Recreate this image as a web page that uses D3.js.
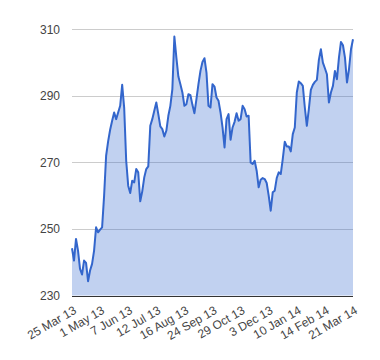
<!DOCTYPE html>
<html>
<head>
<meta charset="utf-8">
<script src="https://cdn.jsdelivr.net/npm/d3@7"></script>
<style>
  html, body { margin: 0; padding: 0; background: #fff; }
  svg { display: block; }
  text { font-family: Arial, "Liberation Sans", sans-serif; }
</style>
</head>
<body>
<svg id="chart" width="380" height="360"></svg>
<script>
// ---- data ----
const tickLabels = ["25 Mar 13", "1 May 13", "7 Jun 13", "12 Jul 13", "16 Aug 13", "24 Sep 13",
                    "29 Oct 13", "3 Dec 13", "10 Jan 14", "14 Feb 14", "21 Mar 14"];
const yTicks = [230, 250, 270, 290, 310];
const values = [
  244.2, 240.5, 247.0, 243.5, 238.0, 236.3, 240.5, 239.8, 234.3, 237.5,
  239.5, 243.5, 250.5, 249.0, 249.8, 250.5, 260.0, 272.0, 276.3, 279.8,
  282.5, 285.0, 283.0, 285.0, 287.0, 293.3, 286.4, 270.5, 263.0, 260.8,
  264.5, 264.0, 268.0, 267.0, 258.3, 261.3, 265.5, 268.0, 268.8, 281.0,
  283.0, 285.5, 288.0, 284.5, 280.8, 280.0, 277.8, 279.5, 284.0, 287.0,
  292.0, 307.8, 301.5, 295.8, 293.5, 291.0, 287.0, 287.5, 290.5, 290.2,
  287.3, 284.8, 289.0, 293.5, 297.5, 300.2, 301.3, 297.0, 287.0, 286.5,
  293.5, 292.8, 289.5, 288.5, 285.0, 280.5, 274.5, 283.0, 284.5, 276.8,
  280.5, 282.2, 284.8, 282.5, 283.0, 287.0, 286.0, 283.8, 284.0, 270.0,
  269.5, 270.5, 267.5, 262.5, 264.8, 265.3, 265.0, 263.8, 260.0, 255.5,
  261.0, 261.5, 265.3, 267.0, 266.5, 271.0, 276.2, 274.8, 274.8, 273.3,
  278.5, 280.5, 291.0, 294.3, 293.8, 293.0, 286.5, 281.0, 286.0, 291.8,
  293.3, 294.2, 294.8, 300.8, 304.0, 300.0, 298.3, 296.5, 288.0, 291.0,
  293.0, 297.5, 295.0, 301.5, 306.2, 305.2, 301.5, 294.0, 298.0, 304.0,
  307.0
];

// ---- layout ----
const W = 380, H = 360;
const plot = { left: 72, right: 353, top: 29.3, bottom: 295.5 };
const svg = d3.select("#chart");

const x = d3.scaleLinear().domain([0, values.length - 1]).range([plot.left, plot.right]);
const y = d3.scaleLinear().domain([230, 310]).range([plot.bottom, plot.top]);

// gridlines
svg.append("g").selectAll("line").data(yTicks.filter(d => d !== 230)).join("line")
  .attr("x1", plot.left).attr("x2", plot.right)
  .attr("y1", d => Math.round(y(d)) + 0.5).attr("y2", d => Math.round(y(d)) + 0.5)
  .attr("stroke", "#cccccc").attr("stroke-width", 1);

// area
const area = d3.area().x((d, i) => x(i)).y0(y(230)).y1(d => y(d));
svg.append("path").datum(values).attr("d", area)
  .attr("fill", "#3366cc").attr("fill-opacity", 0.3);

// line
const line = d3.line().x((d, i) => x(i)).y(d => y(d));
svg.append("path").datum(values).attr("d", line)
  .attr("fill", "none").attr("stroke", "#3366cc").attr("stroke-width", 2)
  .attr("stroke-linejoin", "round");

// baseline
svg.append("line")
  .attr("x1", plot.left).attr("x2", plot.right)
  .attr("y1", Math.round(y(230)) + 0.5).attr("y2", Math.round(y(230)) + 0.5)
  .attr("stroke", "#333333").attr("stroke-width", 1);

// y axis labels
const yAxis = d3.axisLeft(y).tickValues(yTicks).tickSize(0).tickPadding(12).tickFormat(d3.format("d"));
const gy = svg.append("g").attr("transform", `translate(${plot.left},0)`).call(yAxis);
gy.select(".domain").remove();
gy.selectAll("text").attr("font-size", 12).attr("fill", "#444").attr("font-family", "Arial, 'Liberation Sans', sans-serif");

// x axis labels (rotated)
const tickIdx = tickLabels.map((_, k) => k * (values.length - 1) / (tickLabels.length - 1));
svg.append("g").selectAll("text").data(tickLabels).join("text")
  .attr("transform", (d, k) => `translate(${x(tickIdx[k]) + 1},${plot.bottom + 10}) rotate(-30)`)
  .attr("text-anchor", "end")
  .attr("dy", "0.7em")
  .attr("font-size", 12)
  .attr("fill", "#444")
  .text(d => d);
</script>
</body>
</html>
